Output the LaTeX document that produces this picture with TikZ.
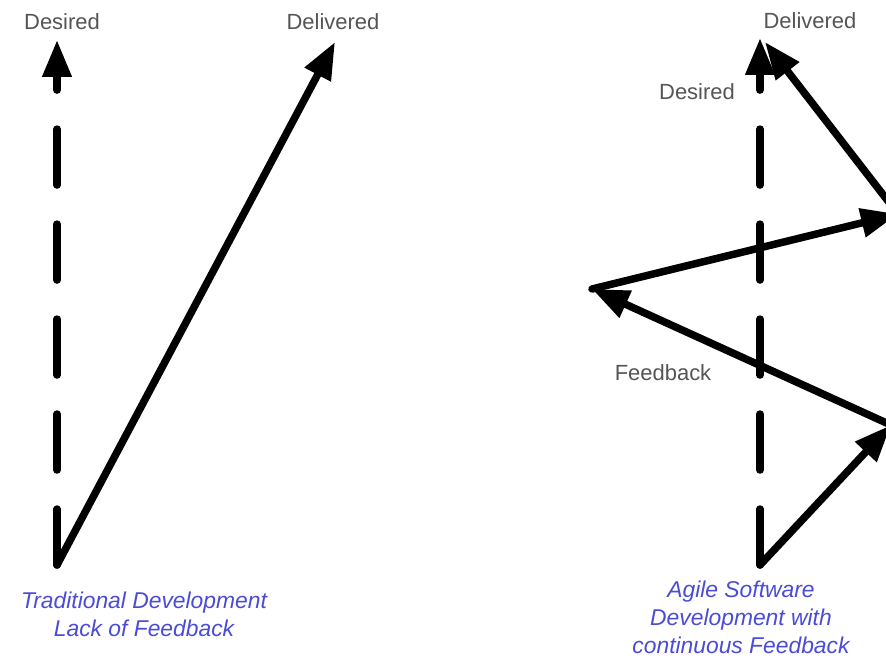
\documentclass[tikz,border=0pt]{standalone}
\usepackage{fontspec}
\setmainfont{Liberation Sans}
\usetikzlibrary{arrows.meta}
\definecolor{labelgray}{RGB}{85,85,85}
\definecolor{captionblue}{RGB}{75,75,215}

\begin{document}
\begin{tikzpicture}[x=0.02cm, y=-0.02cm,
		flow/.style={line width=0.15cm, line cap=round, line join=round, -{Triangle[length=0.74cm, width=0.56cm]}},
		wish/.style={flow, dash pattern=on 1.12cm off 0.78cm},
		tag/.style={text=labelgray, anchor=base, inner sep=0pt, font=\fontsize{12.5}{15}\selectfont},
		caption/.style={text=captionblue, align=center, inner sep=0pt, font=\fontsize{13}{16}\selectfont\itshape}]

		\pgfmathtruncatemacro{\xsize}{886}
		\pgfmathtruncatemacro{\ysize}{660}
		\pgfmathtruncatemacro{\ybase}{565}

		\useasboundingbox (0, 0) rectangle (\xsize, \ysize);
		\clip (0, 0) rectangle (\xsize, \ysize);

		% traditional development
		\coordinate (tradstart) at (57, \ybase);
		\coordinate (tradwant) at (57, 40);
		\coordinate (tradgot) at (335, 42);

		\draw[wish] (tradstart) -- (tradwant); % desired
		\draw[flow] (tradstart) -- (tradgot); % delivered

		\node[tag] (tradwanttag) at (62, 29) {Desired};
		\node[tag] (tradgottag) at (333, 29) {Delivered};
		\node[caption] (tradcaption) at (144, 614) {Traditional Development\\Lack of Feedback};

		% agile development
		\coordinate (agilestart) at (760, \ybase);
		\coordinate (agilewant) at (760, 38);
		\coordinate (turnone) at (891, 425);
		\coordinate (turntwo) at (592, 289);
		\coordinate (turnthree) at (898, 214);
		\coordinate (agilegot) at (765, 42);

		\draw[wish] (agilestart) -- (agilewant); % desired
		\draw[flow] (agilestart) -- (turnone); % first step
		\draw[flow] (turnone) -- (turntwo); % feedback
		\draw[flow] (turntwo) -- (turnthree); % second step
		\draw[flow] (turnthree) -- (agilegot); % delivered

		\node[tag] (agilegottag) at (810, 28) {Delivered};
		\node[tag] (agilewanttag) at (697, 99) {Desired};
		\node[tag] (feedbacktag) at (663, 380) {Feedback};
		\node[caption] (agilecaption) at (741, 617) {Agile Software\\Development with\\continuous Feedback};
	\end{tikzpicture}
\end{document}
